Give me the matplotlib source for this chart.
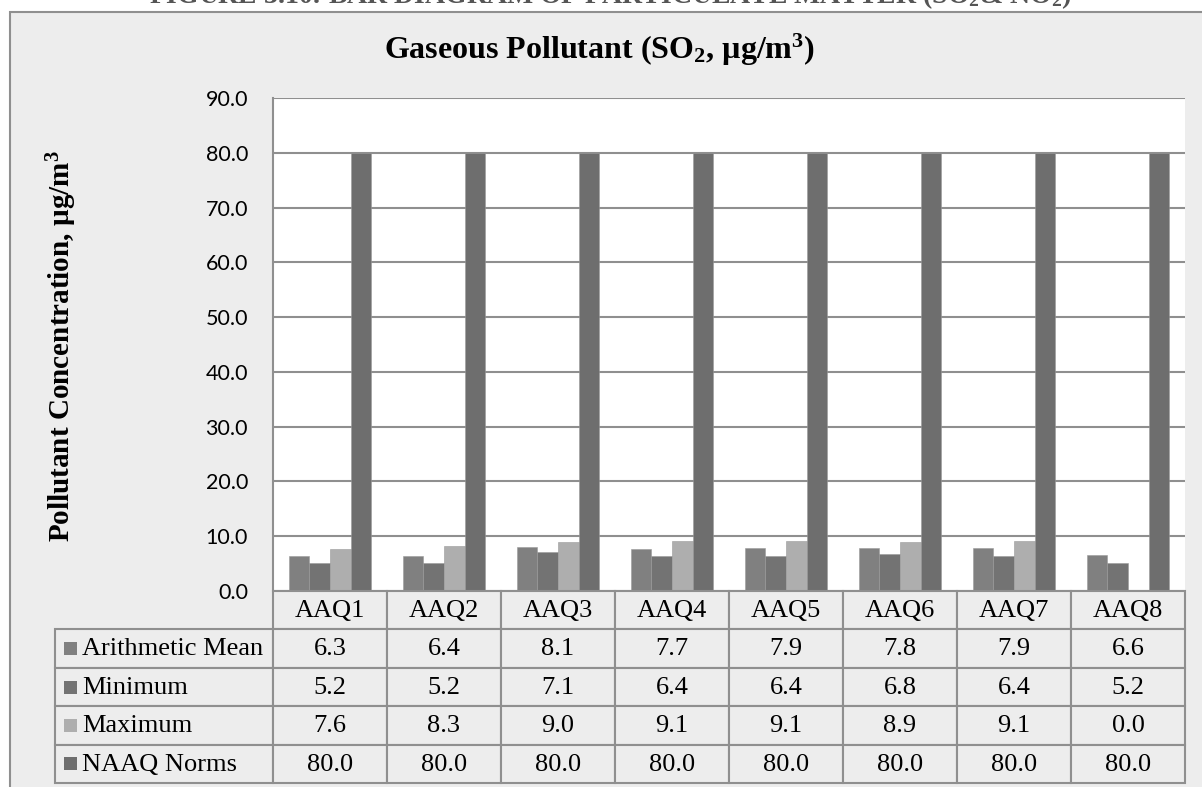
import matplotlib
matplotlib.use("Agg")
import matplotlib.pyplot as plt
from matplotlib.patches import Rectangle

plt.rcParams['mathtext.fontset'] = 'custom'
plt.rcParams['mathtext.rm'] = 'Liberation Serif:bold'
plt.rcParams['mathtext.it'] = 'Liberation Serif:bold'
plt.rcParams['mathtext.bf'] = 'Liberation Serif:bold'

stations = ['AAQ1', 'AAQ2', 'AAQ3', 'AAQ4', 'AAQ5', 'AAQ6', 'AAQ7', 'AAQ8']
series_names = ['Arithmetic Mean', 'Minimum', 'Maximum', 'NAAQ Norms']
arith_mean = [6.3, 6.4, 8.1, 7.7, 7.9, 7.8, 7.9, 6.6]
minimum = [5.2, 5.2, 7.1, 6.4, 6.4, 6.8, 6.4, 5.2]
maximum = [7.6, 8.3, 9.0, 9.1, 9.1, 8.9, 9.1, 0.0]
naaq_norms = [80.0, 80.0, 80.0, 80.0, 80.0, 80.0, 80.0, 80.0]
yticks = [0, 10, 20, 30, 40, 50, 60, 70, 80, 90]

series = [arith_mean, minimum, maximum, naaq_norms]
colors = ['#808080', '#737373', '#AEAEAE', '#6E6E6E']
line_c = '#8F8F8F'
bg = '#EDEDED'

W, H = 1202, 787
fig = plt.figure(figsize=(W / 100, H / 100), dpi=100)
fig.patch.set_facecolor('white')


def fx(px):
    return px / W


def fy(py):
    return 1 - py / H


# chart area frame (right and bottom edges run off the page)
fig.patches.append(Rectangle((fx(10), -0.5), 2.0, fy(12) + 0.5,
                             transform=fig.transFigure, fc=bg, ec=line_c,
                             lw=1.5, zorder=-5))

# caption line cut by the top of the page
fig.text(fx(610), fy(3), 'FIGURE 3.10: BAR DIAGRAM OF PARTICULATE MATTER (SO$_2$& NO$_2$)',
         ha='center', va='baseline', fontsize=20, fontweight='bold',
         family='Liberation Serif', color='#555555')

fig.text(fx(600), fy(50), 'Gaseous Pollutant (SO$_2$, µg/m$^3$)', ha='center',
         va='center', fontsize=23, fontweight='bold', family='Liberation Serif')
fig.text(fx(62), fy(346), 'Pollutant Concentration, µg/m$^3$', ha='center',
         va='center', rotation=90, fontsize=21, fontweight='bold',
         family='Liberation Serif')

left, right, top, bottom = 273, 1185, 98, 591
ax = fig.add_axes([fx(left), fy(bottom), (right - left) / W, (bottom - top) / H])
ax.set_facecolor('white')
ax.set_xlim(0, len(stations))
ax.set_ylim(0, 90)
ax.set_yticks(yticks)
ax.set_yticklabels([f'{v:.1f}' for v in yticks], family='Lato', fontsize=15.5)
ax.set_xticks([])
ax.tick_params(axis='y', length=0, pad=18)
ax.grid(axis='y', color=line_c, lw=1.5)
ax.set_axisbelow(True)
for s in ['top', 'right', 'bottom']:
    ax.spines[s].set_visible(False)
ax.spines['left'].set_color(line_c)
ax.spines['left'].set_linewidth(1.5)

bw = 0.182
for k, (vals, c) in enumerate(zip(series, colors)):
    xs = [i + 0.5 + (k - 1.5) * bw for i in range(len(stations))]
    ax.bar(xs, vals, width=bw, color=c, edgecolor='#9A9A9A', lw=0.4, zorder=2)

# data table under the plot
tab = fig.add_axes([fx(left), fy(783), (right - left) / W, (783 - bottom) / H])
tab.set_xlim(0, len(stations))
tab.set_ylim(5, 0)
tab.axis('off')

col_px = (right - left) / len(stations)
leg_x0 = (55 - left) / col_px
row_px = (783 - bottom) / 5
cell_font = dict(family='Liberation Serif', fontsize=19, va='center')

for j, name in enumerate(stations):
    tab.add_patch(Rectangle((j, 0), 1, 1, fc=bg, ec=line_c, lw=1.5, clip_on=False))
    tab.text(j + 0.5, 0.52, name, ha='center', **cell_font)

for r, (name, vals, c) in enumerate(zip(series_names, series, colors), start=1):
    tab.add_patch(Rectangle((leg_x0, r), -leg_x0, 1, fc=bg, ec=line_c, lw=1.5,
                            clip_on=False))
    sq_w = 13 / col_px
    sq_h = 13 / row_px
    tab.add_patch(Rectangle(((64 - left) / col_px, r + 0.5 - sq_h / 2), sq_w, sq_h,
                            fc=c, ec='none', clip_on=False))
    tab.text((82 - left) / col_px, r + 0.52, name, ha='left', **cell_font)
    for j, v in enumerate(vals):
        tab.add_patch(Rectangle((j, r), 1, 1, fc=bg, ec=line_c, lw=1.5, clip_on=False))
        tab.text(j + 0.5, r + 0.52, f'{v:.1f}', ha='center', **cell_font)

fig.savefig('out.png', dpi=100)
